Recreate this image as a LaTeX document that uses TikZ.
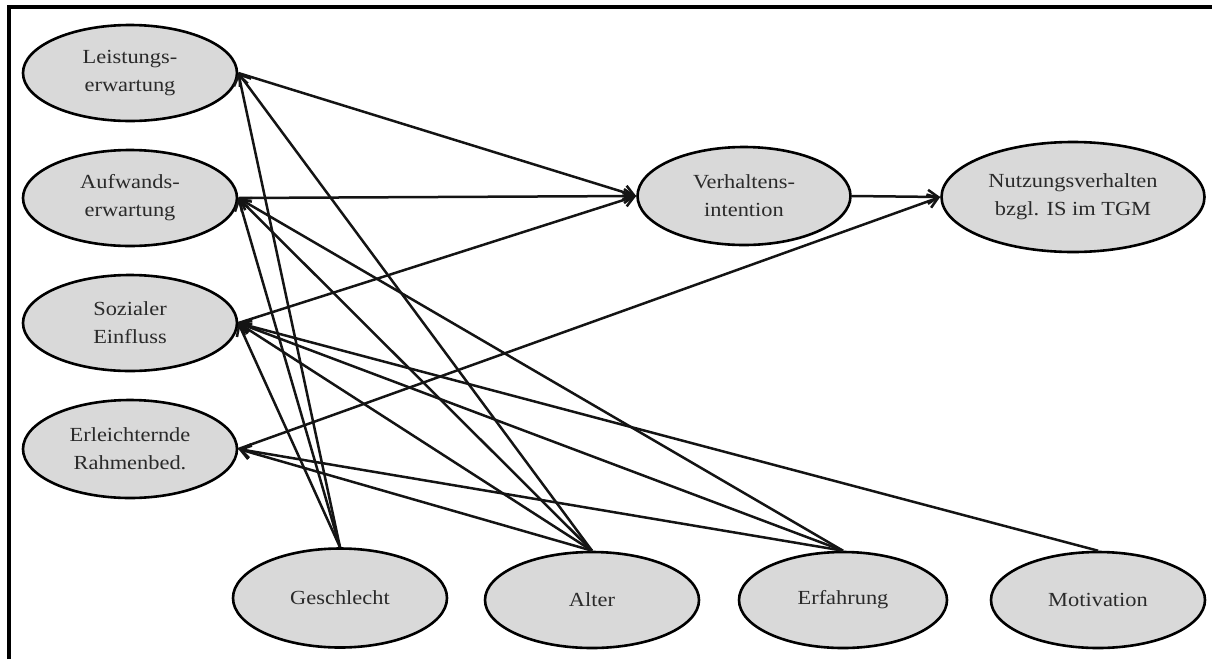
\documentclass[tikz,border=0pt]{standalone}
\usepackage{fontspec}
\setmainfont[FakeStretch=1.12]{Liberation Serif}
\usetikzlibrary{shapes.geometric,arrows.meta}
\definecolor{ellfill}{HTML}{D9D9D9}
\definecolor{txt}{HTML}{2A2A2A}
\begin{document}
\begin{tikzpicture}[x=1pt,y=-1pt,
  ell/.style={ellipse,draw=black,line width=2.6pt,fill=ellfill,inner sep=0pt,
    text=txt,align=center,font=\fontsize{20}{28}\selectfont,
    minimum width=214pt,minimum height=96pt},
  arr/.style={line width=2.5pt,draw=black!92,-{Straight Barb[length=10pt,width=14pt]}},
  frame/.style={line width=3.5pt}]
\useasboundingbox (0,0) rectangle (1212,659);
\draw[frame] (9,659) -- (9,7) -- (1212,7);
\node[ell] (LE) at (130,73) {Leistungs-\\erwartung};
\node[ell] (AE) at (130,198) {Aufwands-\\erwartung};
\node[ell] (SE) at (130,323) {Sozialer\\Einfluss};
\node[ell,minimum height=98pt] (ER) at (130,449) {Erleichternde\\Rahmenbed.};
\node[ell,minimum width=213pt,minimum height=98pt] (VI) at (744,196) {Verhaltens-\\intention};
\node[ell,minimum width=263pt,minimum height=110pt] (NV) at (1073,197) {Nutzungsverhalten\\bzgl. IS im TGM};
\node[ell,minimum height=99pt] (GE) at (340,598) {Geschlecht};
\node[ell] (AL) at (592,600) {Alter};
\node[ell,minimum width=208pt] (EF) at (843,600) {Erfahrung};
\node[ell] (MO) at (1098,600) {Motivation};
\draw[arr] (LE.east) -- (VI.west);
\draw[arr] (AE.east) -- (VI.west);
\draw[arr] (SE.east) -- (VI.west);
\draw[arr] (ER.east) -- (NV.west);
\draw[arr] (VI.east) -- (NV.west);
\foreach \t in {LE,AE,SE} \draw[arr] (GE.north) -- (\t.east);
\foreach \t in {LE,AE,SE,ER} \draw[arr] (AL.north) -- (\t.east);
\foreach \t in {AE,SE,ER} \draw[arr] (EF.north) -- (\t.east);
\draw[arr] (MO.north) -- (SE.east);
\end{tikzpicture}
\end{document}
